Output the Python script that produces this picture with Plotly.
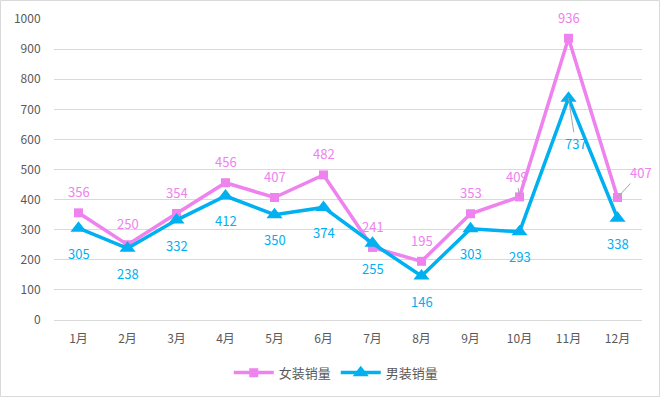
import plotly.graph_objects as go

months = ["1月", "2月", "3月", "4月", "5月", "6月", "7月", "8月", "9月", "10月", "11月", "12月"]
women = [356, 250, 354, 456, 407, 482, 241, 195, 353, 409, 936, 407]
men = [305, 238, 332, 412, 350, 374, 255, 146, 303, 293, 737, 338]

PINK = "#EE82EE"
BLUE = "#00B0F0"
GRAY = "#595959"
FONT = "Noto Sans CJK SC, Microsoft YaHei, sans-serif"

fig = go.Figure()
fig.add_trace(go.Scatter(
    x=months, y=women, name="女装销量", mode="lines+markers",
    line=dict(color=PINK, width=3.5),
    marker=dict(symbol="square", size=9, color=PINK),
))
fig.add_trace(go.Scatter(
    x=months, y=men, name="男装销量", mode="lines+markers",
    line=dict(color=BLUE, width=3.5),
    marker=dict(symbol="triangle-up", size=14, color=BLUE),
))

# data labels
for i, (m, v) in enumerate(zip(months, women)):
    if i == 11:
        fig.add_annotation(x=m, y=v, text=str(v), showarrow=True, ax=23, ay=-25,
                           arrowhead=0, arrowwidth=1, arrowcolor="#A6A6A6",
                           font=dict(color=PINK, size=13, family=FONT))
    elif i == 9:
        fig.add_annotation(x=m, y=v, text=str(v), showarrow=True, ax=-3, ay=-20,
                           arrowhead=0, arrowwidth=1, arrowcolor="#A6A6A6",
                           font=dict(color=PINK, size=13, family=FONT))
    else:
        fig.add_annotation(x=m, y=v, text=str(v), showarrow=False, yshift=21,
                           font=dict(color=PINK, size=13, family=FONT))
for i, (m, v) in enumerate(zip(months, men)):
    if i == 10:
        fig.add_annotation(x=m, y=v, text=str(v), showarrow=True, ax=7, ay=45,
                           arrowhead=0, arrowwidth=1, arrowcolor="#A6A6A6",
                           font=dict(color=BLUE, size=13, family=FONT))
    else:
        fig.add_annotation(x=m, y=v, text=str(v), showarrow=False, yshift=-25,
                           font=dict(color=BLUE, size=13, family=FONT))

L, R, T, B = 54, 19, 19, 78
PW, PH = 661 - L - R, 398 - T - B

fig.add_shape(type="rect", xref="paper", yref="paper",
              x0=-(L - 0.5) / PW, x1=1 + (R - 1.5) / PW,
              y0=-(B - 1.5) / PH, y1=1 + (T - 0.5) / PH,
              line=dict(color="#D9D9D9", width=1), layer="below")

fig.update_layout(
    width=661, height=398,
    margin=dict(l=L, r=R, t=T, b=B, autoexpand=False),
    paper_bgcolor="white", plot_bgcolor="white",
    font=dict(family=FONT, size=12, color=GRAY),
    showlegend=True,
    legend=dict(orientation="h", x=0.48, xanchor="center", y=-0.175, yanchor="middle",
                font=dict(size=13, color=GRAY), itemwidth=40),
    xaxis=dict(showgrid=False, showline=False, zeroline=False, automargin=False,
               range=[-0.5, len(months) - 0.5],
               ticks="outside", ticklen=8, tickcolor="rgba(0,0,0,0)",
               tickfont=dict(size=12, color=GRAY)),
    yaxis=dict(range=[0, 1000], dtick=100, showgrid=True, gridcolor="#D9D9D9",
               gridwidth=1, zeroline=True, zerolinecolor="#D9D9D9", zerolinewidth=1,
               showline=False, automargin=False, ticks="outside", ticklen=10,
               tickcolor="rgba(0,0,0,0)", tickfont=dict(size=12, color=GRAY)),
)

fig.write_html("out.html", config={"displayModeBar": False},
               post_script="document.body.style.margin='0';")
